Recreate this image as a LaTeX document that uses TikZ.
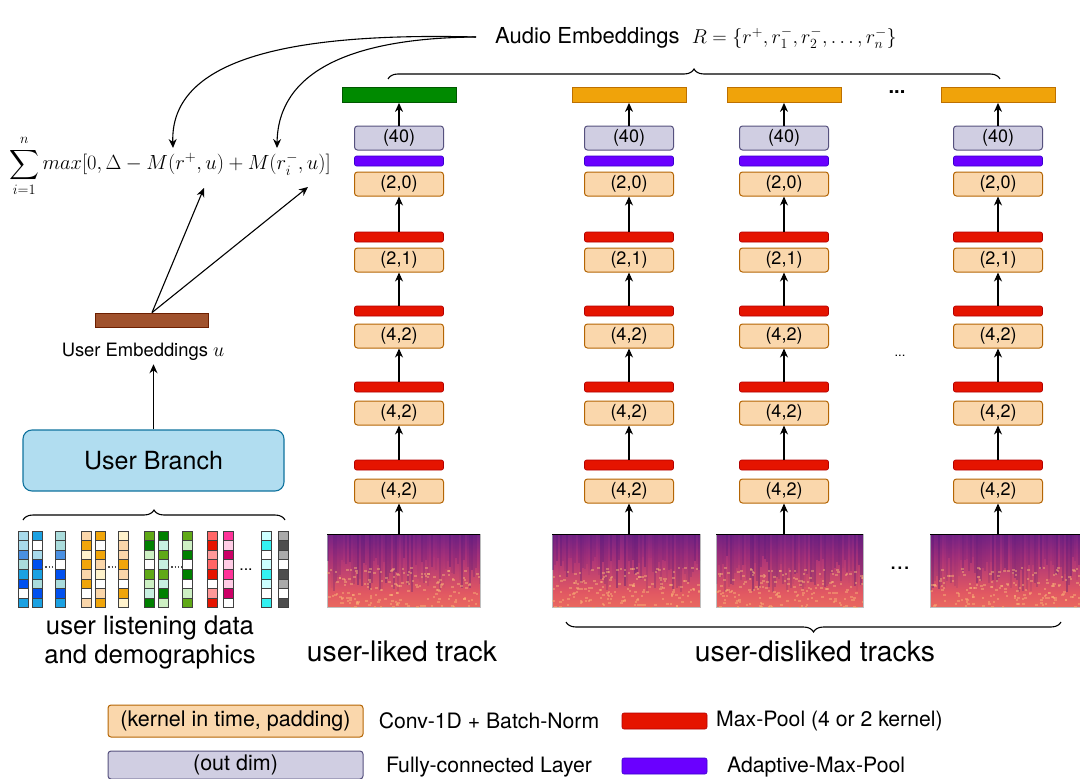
\RequirePackage{fix-cm}
\documentclass[tikz,border=0pt]{standalone}
\usepackage{amsmath}
\usepackage{fontspec}
\setmainfont{TeX Gyre Heros}
\usetikzlibrary{decorations.pathreplacing,arrows.meta,calc}
% colours
\definecolor{convF}{RGB}{250,215,172}\definecolor{convD}{RGB}{180,101,4}
\definecolor{fcF}{RGB}{208,206,226}\definecolor{fcD}{RGB}{86,81,126}
\definecolor{mpF}{RGB}{229,20,0}\definecolor{mpD}{RGB}{178,0,0}
\definecolor{apF}{RGB}{106,0,255}\definecolor{apD}{RGB}{55,0,204}
\definecolor{greenF}{RGB}{0,138,0}\definecolor{greenD}{RGB}{0,87,0}
\definecolor{orangeF}{RGB}{240,163,10}\definecolor{orangeD}{RGB}{189,112,0}
\definecolor{brownF}{RGB}{160,82,45}\definecolor{brownD}{RGB}{109,31,0}
\definecolor{ubF}{RGB}{177,221,240}\definecolor{ubD}{RGB}{16,115,158}
\definecolor{mg1}{RGB}{40,12,90}\definecolor{mg2}{RGB}{100,30,140}
\definecolor{mg3}{RGB}{170,50,122}\definecolor{mg4}{RGB}{225,88,98}
\definecolor{mg5}{RGB}{245,130,92}
\definecolor{mgdark}{RGB}{60,15,115}\definecolor{mglight}{RGB}{252,185,120}
% grid colours
\definecolor{qw}{RGB}{255,255,255}
\definecolor{qb1}{RGB}{168,218,235}\definecolor{qb2}{RGB}{74,144,226}
\definecolor{qb3}{RGB}{170,220,220}\definecolor{qb4}{RGB}{27,161,226}
\definecolor{qb5}{RGB}{0,80,239}
\definecolor{qo1}{RGB}{250,214,170}\definecolor{qo2}{RGB}{240,165,10}
\definecolor{qo3}{RGB}{255,242,204}
\definecolor{qg1}{RGB}{96,169,23}\definecolor{qg2}{RGB}{0,128,0}
\definecolor{qg3}{RGB}{205,240,195}\definecolor{qg4}{RGB}{200,240,225}
\definecolor{qr1}{RGB}{255,102,102}\definecolor{qr2}{RGB}{229,20,0}
\definecolor{qr3}{RGB}{255,153,153}
\definecolor{qp1}{RGB}{255,51,153}\definecolor{qp2}{RGB}{255,204,229}
\definecolor{qp3}{RGB}{204,0,102}
\definecolor{qc1}{RGB}{204,255,255}\definecolor{qc2}{RGB}{51,240,240}
\definecolor{qk1}{RGB}{170,170,170}\definecolor{qk2}{RGB}{77,77,77}
\pgfdeclareverticalshading{magma}{100bp}{color(0bp)=(mg5); color(10bp)=(mg5); color(35bp)=(mg4); color(60bp)=(mg3); color(82bp)=(mg2); color(100bp)=(mg1)}
\newcommand\specstripes[4]{%
  \begin{scope}
  \clip (#1,#2) rectangle ++(#3,#4);
  \foreach \k in {0,2,...,#3}{
    \pgfmathsetmacro\sOp{0.35*rnd}
    \pgfmathsetmacro\sLen{#4*(0.3+0.5*rnd)}
    \fill[mgdark, opacity=\sOp] (#1+\k,#2) rectangle ++(2,\sLen);
  }
  \foreach \k in {1,...,180}{
    \pgfmathsetmacro\sx{#1+#3*rnd}
    \pgfmathsetmacro\sy{#2+#4*(0.45+0.55*rnd)}
    \fill[mglight, opacity=0.45] (\sx,\sy) rectangle ++(2.5,2);
  }
  \draw[black, line width=1.5] (#1,#2) -- ++(#3,0);
  \end{scope}}
\begin{document}
\begin{tikzpicture}[x=1pt,y=-1pt,
  conv/.style={draw=convD, fill=convF, rounded corners=3pt, minimum width=89, minimum height=24, line width=1, inner sep=0, font=\fontsize{18}{18}\selectfont},
  fcbox/.style={conv, draw=fcD, fill=fcF},
  mpool/.style={draw=mpD, fill=mpF, rounded corners=2pt, minimum width=89, minimum height=10, inner sep=0, line width=0.6},
  apool/.style={mpool, draw=apD, fill=apF},
  bar/.style={minimum width=114, minimum height=15, inner sep=0, line width=0.8},
  arr/.style={-{Stealth[length=9pt,width=8pt]}, line width=1.1},
  spec/.style={shade, shading=magma, inner sep=0, draw=black!25, line width=0.4, anchor=north west},
  brc/.style={decorate, decoration={brace, amplitude=10pt}, line width=1.1},
  cell/.style={draw=black!75, line width=0.8},
  lbl/.style={font=\fontsize{25.7}{25.7}\selectfont},
  leg/.style={font=\fontsize{21.2}{21.2}\selectfont, inner sep=0}
]
\useasboundingbox (0,0) rectangle (1080,779);
\pgfmathsetseed{7}

% ---- spectrograms
\node[spec, minimum width=153, minimum height=73] (spA) at (327,534) {};
\node[spec, minimum width=148, minimum height=73] (spB) at (552,534) {};
\node[spec, minimum width=147, minimum height=73] (spC) at (716,534) {};
\node[spec, minimum width=160, minimum height=73] (spD) at (930,534) {};
\specstripes{327}{534}{153}{73}
\specstripes{552}{534}{148}{73}
\specstripes{716}{534}{147}{73}
\specstripes{930}{534}{160}{73}

% ---- columns
\foreach \cid/\x/\tc/\td in {A/399/greenF/greenD, B/629/orangeF/orangeD, C/784/orangeF/orangeD, D/998/orangeF/orangeD}{
  \node[bar, fill=\tc, draw=\td] (top\cid) at (\x,95) {};
  \node[fcbox] (fc\cid) at (\x,138) {(40)};
  \node[apool] (ap\cid) at (\x,161) {};
  \node[conv] (cva\cid) at (\x,184) {(2,0)};
  \node[mpool] (mpb\cid) at (\x,237) {};
  \node[conv] (cvb\cid) at (\x,260) {(2,1)};
  \node[mpool] (mpc\cid) at (\x,311) {};
  \node[conv] (cvc\cid) at (\x,336) {(4,2)};
  \node[mpool] (mpd\cid) at (\x,387) {};
  \node[conv] (cvd\cid) at (\x,413) {(4,2)};
  \node[mpool] (mpe\cid) at (\x,465) {};
  \node[conv] (cve\cid) at (\x,491) {(4,2)};
  \draw[arr] (fc\cid) -- (top\cid);
  \draw[arr] (mpb\cid) -- (cva\cid);
  \draw[arr] (mpc\cid) -- (cvb\cid);
  \draw[arr] (mpd\cid) -- (cvc\cid);
  \draw[arr] (mpe\cid) -- (cvd\cid);
  \draw[arr] (sp\cid.north -| cve\cid.south) -- (cve\cid);
}

% ---- dots
\node[font=\fontsize{20}{20}\selectfont\bfseries] (dotsTop) at (897,92) {...};
\node[font=\fontsize{13}{13}\selectfont] (dotsMid) at (900,356) {...};
\node[font=\fontsize{24}{24}\selectfont] (dotsSp) at (900,568) {...};

% ---- audio embeddings
\node[font=\fontsize{22}{22}\selectfont, anchor=west, inner sep=0] (audio) at (495,38) {Audio Embeddings\ \ {\fontsize{20}{20}\selectfont$R=\{r^+,r_1^-,r_2^-,\ldots,r_n^-\}$}};
\draw[brc] (388,79) -- (1000,79);
\draw[brc] (1061,622) -- (566,622);
\node[font=\fontsize{28.3}{28.3}\selectfont] (liked) at (402,651) {user-liked track};
\node[font=\fontsize{28.3}{28.3}\selectfont] (disliked) at (815,651) {user-disliked tracks};

% ---- loss formula
\node[font=\fontsize{20.5}{21}\selectfont, inner sep=0] (loss) at (170,166) {$\displaystyle\sum_{i=1}^{n} max[0,\Delta-M(r^+,u)+M(r_i^-,u)]$};
\coordinate (tipP) at (173,148);
\coordinate (tipN) at (277,148);
\coordinate (tipU1) at (204,188);
\coordinate (tipU2) at (308,187);
\coordinate (aStart) at (476,37);
\draw[arr] (aStart) .. controls (280,32) and (170,62) .. (tipP);
\draw[arr] (aStart) .. controls (350,38) and (278,72) .. (tipN);

% ---- user side
\node[draw=brownD, fill=brownF, minimum width=113, minimum height=14, inner sep=0, line width=0.8] (ue) at (152,320) {};
\draw[line width=1.1, -{Stealth[length=9pt,width=8pt]}] (ue.north) -- (tipU1);
\draw[line width=1.1, -{Stealth[length=9pt,width=8pt]}] (ue.north) -- (tipU2);
\node[font=\fontsize{18.4}{18.4}\selectfont] (uelbl) at (143,352) {User Embeddings\ {\fontsize{20}{20}\selectfont$u$}};
\node[draw=ubD, fill=ubF, rounded corners=9pt, minimum width=261, minimum height=61, line width=1.1, font=\fontsize{25}{25}\selectfont] (ub) at (153.5,460.5) {User Branch};
\draw[arr] (ub.north) -- (ub.north |- uelbl.south);
\draw[brc] (23,520) -- (285,520);

% ---- user data grid
\foreach \x/\cols in {
 18/{qb1,qb1,qb2,qb3,qb4,qb5,qw,qb4},
 32/{qb4,qw,qb1,qb5,qb4,qb3,qb5,qb4},
 55/{qb3,qb3,qb2,qw,qb5,qb3,qb5,qb4},
 81/{qo1,qo2,qo3,qo2,qo1,qo2,qw,qo1},
 95/{qo2,qw,qo2,qo1,qo3,qw,qo1,qo2},
 118/{qo3,qo1,qo1,qo2,qo1,qw,qo2,qo3},
 144/{qg1,qg2,qg3,qw,qg1,qg3,qg4,qg2},
 158/{qg2,qg4,qg1,qg4,qg1,qg4,qg2,qg3},
 182/{qg1,qg3,qg2,qw,qg2,qw,qg3,qg1},
 207/{qr1,qr2,qr3,qr1,qr2,qw,qr3,qr2},
 223/{qp1,qp2,qp3,qp2,qp1,qp2,qp3,qw},
 261/{qc1,qc2,qw,qc1,qc2,qc1,qw,qc2},
 278/{qk1,qk2,qk1,qw,qk2,qk1,qw,qk2}}{
  \foreach \c [count=\r from 0] in \cols {
    \draw[cell, fill=\c] (\x,531+\r*9.6) rectangle ++(10,9.6);
  }
}
\foreach \xa/\xb in {42/55,105/118,168/182}{
  \draw[black!70, line width=1.3, dotted] (\xa,567) -- (\xb,567);
}
\node[font=\fontsize{16}{16}\selectfont] (gdots) at (246,570) {...};
\node[lbl] (uld1) at (150,628) {user listening data};
\node[lbl] (uld2) at (150,657) {and demographics};

% ---- legend
\node[conv, minimum width=255, minimum height=32, font=\fontsize{21.5}{21.5}\selectfont] (lgConv) at (235.5,721) {(kernel in time, padding)};
\node[leg] (lgConvT) at (489,721) {Conv-1D + Batch-Norm};
\node[mpool, minimum width=85, minimum height=16] (lgMp) at (664.5,721) {};
\node[leg, anchor=west] (lgMpT) at (716,721) {Max-Pool (4 or 2 kernel)};
\node[fcbox, minimum width=255, minimum height=28, font=\fontsize{21.5}{21.5}\selectfont] (lgFc) at (235.5,765) {(out dim)};
\node[leg] (lgFcT) at (489,767) {Fully-connected Layer};
\node[apool, minimum width=85, minimum height=16] (lgAp) at (664.5,766) {};
\node[leg, anchor=west] (lgApT) at (727,767) {Adaptive-Max-Pool};
\end{tikzpicture}
\end{document}
